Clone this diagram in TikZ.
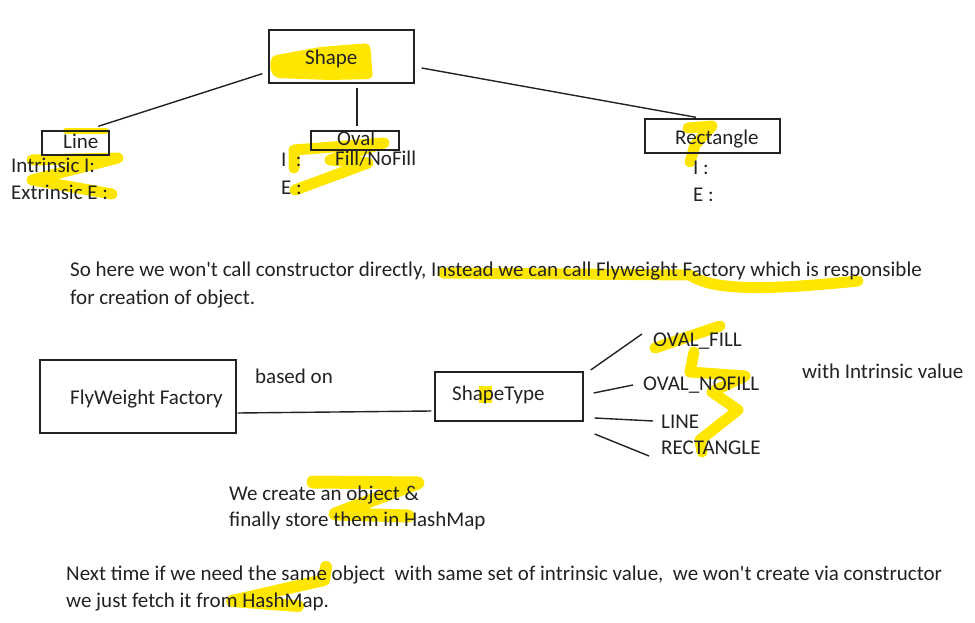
\documentclass[tikz,border=0pt]{standalone}
\usepackage{fontspec}
\setmainfont{Carlito}[Ligatures=TeXOff]
\definecolor{ink}{HTML}{222222}
\definecolor{marker}{HTML}{FFE600}
\begin{document}
\begin{tikzpicture}[x=1pt,y=-1pt]
\tikzset{ box/.style={draw=ink, line width=1.4pt, inner sep=0pt},
          txt/.style={anchor=base west, inner sep=0pt, text=ink, font=\fontsize{21}{25}\selectfont},
          link/.style={draw=ink, line width=1.4pt},
          hl/.style={marker, line width=11pt, line cap=round, line join=round} }

\useasboundingbox (0,0) rectangle (975,623);

%\draw [lightgray, dashed](0,0) grid[step=50] (975,623);

% highlighter
\fill [marker, rounded corners=5pt] (271,56) -- (320,47) -- (370,43) -- (373,79) -- (330,80) -- (275,78) -- (270,70) -- cycle;
\draw [hl, line width=6pt] (66,131) -- (106,131);
\draw [hl] (32,160) -- (118,158) -- (32,180) -- (112,194);
\draw [hl, line width=11pt] (294,168) -- (294,150) -- (384,143) -- (330,160) -- (368,163) -- (295,190);
\draw [hl] (688,128) -- (712,126) -- (695,145) -- (690,162);
\draw [hl] (443,273) -- (690,275) .. controls (712,290) and (760,291) .. (858,281);
\fill [marker] (479,386) rectangle (492,403);
\draw [hl] (655,348) -- (720,326);
\draw [hl] (694,352) -- (690,372) -- (745,376) -- (712,392) -- (738,410) -- (700,440) -- (702,452);
\draw [hl, line width=13pt] (313,482) -- (418,483) -- (335,514) -- (408,516);
\draw [hl, line width=12pt] (326,567) -- (324,580) -- (232,601) -- (298,606);

% top: class tree
\node [box, minimum width=145, minimum height=53] (shape) at (341.5,56.5) {};
\node [box, minimum width=67,  minimum height=24] (line)  at (75.5,143) {};
\node [box, minimum width=88,  minimum height=19] (oval)  at (355,140.5) {};
\node [box, minimum width=135, minimum height=34] (rect)  at (712.5,136) {};

\node [txt] (shapeT) at (305,65)  {Shape};
\node [txt] (lineT)  at (63,149)  {Line};
\node [txt] (ovalT)  at (337,146) {Oval};
\node [txt] (rectT)  at (675,145) {Rectangle};

\draw [link] ([shift={(-6,-10)}]shape.south west) -- ([shift={(57,-4)}]line.north west);
\draw [link] ([shift={(15.5,4)}]shape.south) -- ([shift={(2,-4)}]oval.north);
\draw [link] ([shift={(7,11.5)}]shape.east) -- ([shift={(-16.5,-1)}]rect.north);

\node [txt] (lineI) at (11,173)  {Intrinsic I:};
\node [txt] (lineE) at (11,200)  {Extrinsic E :};
\node [txt] (ovalI) at (281,167) {I\ \ :};
\node [txt] (ovalF) at (335,165) {Fill/NoFill};
\node [txt] (ovalE) at (281,194) {E :};
\node [txt] (rectI) at (693,175) {I :};
\node [txt] (rectE) at (693,201) {E :};

\node [txt] (para1) at (70,276) {So here we won't call constructor directly, Instead we can call Flyweight Factory which is responsible};
\node [txt] (para2) at (70,304) {for creation of object.};

% bottom: factory
\node [box, minimum width=196, minimum height=73] (factory) at (138,396.5) {};
\node [box, minimum width=148, minimum height=49] (stype)   at (509,396.5) {};
\node [txt] (factoryT) at (70,404)  {FlyWeight Factory};
\node [txt] (stypeT)   at (452,400) {ShapeType};
\node [txt] (based)    at (255,383) {based on};

\draw [link] ([shift={(1,16.5)}]factory.east) -- ([shift={(-3,14.5)}]stype.west);

\node [txt] (ofill)   at (653,346) {OVAL\_FILL};
\node [txt] (onofill) at (643,390) {OVAL\_NOFILL};
\node [txt] (tline)   at (661,428) {LINE};
\node [txt] (trect)   at (661,454) {RECTANGLE};
\node [txt] (intr)    at (802,378) {with Intrinsic value};

\draw [link] ([shift={(7,-26.5)}]stype.east) -- ([shift={(-11,-12)}]ofill.base west);
\draw [link] ([shift={(10,-3.5)}]stype.east) -- ([shift={(-10,-5)}]onofill.base west);
\draw [link] ([shift={(11,21.5)}]stype.east) -- ([shift={(-8,-7)}]tline.base west);
\draw [link] ([shift={(11,37.5)}]stype.east) -- ([shift={(-12,2)}]trect.base west);

\node [txt] (store1) at (229,500) {We create an object \&};
\node [txt] (store2) at (229,526) {finally store them in HashMap};

\node [txt] (next1) at (66,580) {Next time if we need the same object\ \ with same set of intrinsic value,\ \ we won't create via constructor};
\node [txt] (next2) at (66,607) {we just fetch it from HashMap.};

\end{tikzpicture}
\end{document}
